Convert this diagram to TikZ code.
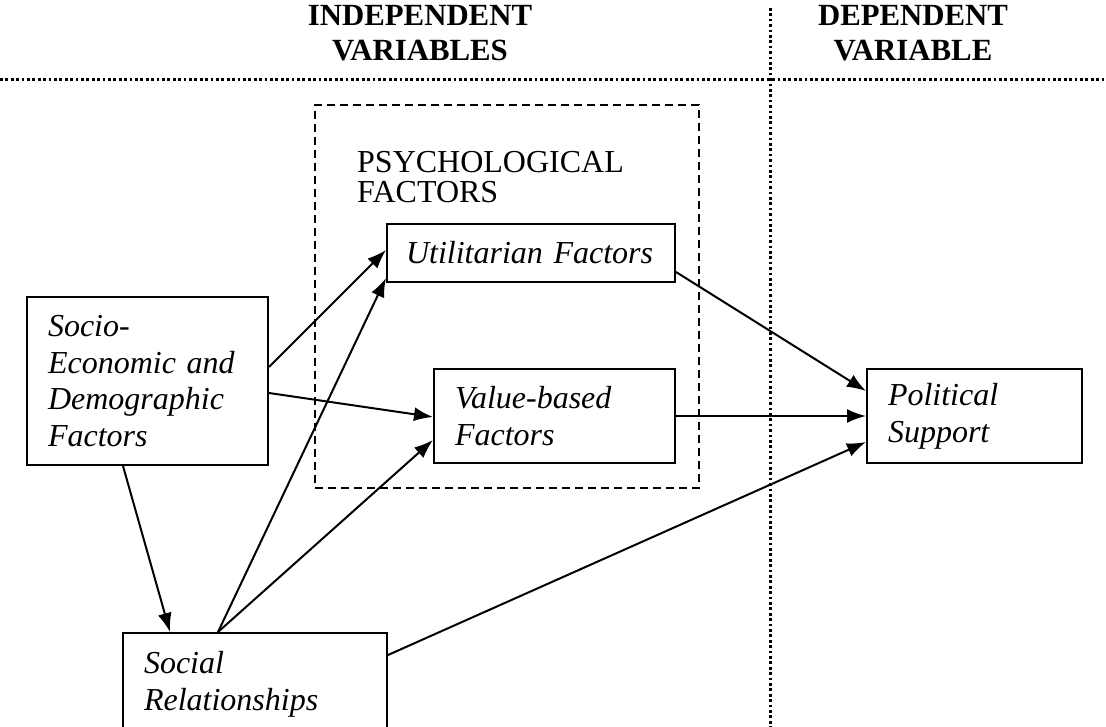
\documentclass[tikz,border=0pt]{standalone}
\usepackage{fontspec}
\setmainfont{Liberation Serif}
\usetikzlibrary{arrows.meta}
\newcommand\myNoHyph{\hyphenpenalty 10000\relax}
\begin{document}
\begin{tikzpicture}[x=1pt,y=-1pt,
  box/.style={draw, line width=2pt, rectangle, inner xsep=21pt, inner ysep=0pt,
    align=left, font=\fontsize{32}{36.8}\selectfont\itshape, anchor=center},
  arr/.style={line width=2pt, -{Latex[length=19pt,width=14pt]}},
  hdr/.style={font=\fontsize{30.8}{35}\selectfont\bfseries, inner sep=0pt, anchor=base},
  psy/.style={font=\fontsize{32}{30}\selectfont, inner sep=0pt, anchor=base west},
  dotline/.style={line width=3pt, dash pattern=on 2.7pt off 2.7pt},
  dashbox/.style={draw, line width=1.6pt, dash pattern=on 8pt off 5pt, rectangle, inner sep=0pt}]
\useasboundingbox (0,0) rectangle (1106,727);

% header lines
\coordinate (hl) at (0,80);
\coordinate (hr) at (1106,80);
\coordinate (vt) at (770,8);
\coordinate (vb) at (770,727);
\draw[dotline] (hl) -- (hr);
\draw[dotline] (vt) -- (vb);

\node[hdr] (ind1) at (420,26) {INDEPENDENT};
\node[hdr] (ind2) at (420,61) {VARIABLES};
\node[hdr] (dep1) at (913,26) {DEPENDENT};
\node[hdr] (dep2) at (913,61) {VARIABLE};

% psychological factors dashed box
\node[dashbox, minimum width=384pt, minimum height=383pt] (psych) at (507,296.5) {};
\node[psy] (psyt1) at (357,173) {PSYCHOLOGICAL};
\node[psy] (psyt2) at (357,203) {FACTORS};

% boxes
\node[box, text width=199pt, minimum height=168pt] (socio) at (147.5,381)
  {\myNoHyph Socio-\\Economic and\\Demographic\\Factors};
\node[box, inner xsep=19pt, text width=250pt, minimum width=288pt, minimum height=58pt] (util) at (531,253)
  {\myNoHyph Utilitarian Factors};
\node[box, text width=199pt, minimum height=94pt] (value) at (554.5,416)
  {\myNoHyph Value-based\\Factors};
\node[box, text width=173pt, minimum height=94pt] (pol) at (974.5,416)
  {\myNoHyph Political\\Support};
\node[box, text width=222pt, minimum height=102pt] (social) at (255,684)
  {\myNoHyph Social\\Relationships};

% connectors
\draw[arr] ([yshift=14pt]socio.east) -- ([yshift=3pt]util.west);
\draw[arr] ([yshift=-12pt]socio.east) -- ([yshift=-1pt]value.west);
\draw[arr] ([xshift=-24.5pt]socio.south) -- ([xshift=-85pt]social.north);
\draw[arr] ([xshift=-37pt]social.north) -- ([yshift=-25pt]util.west);
\draw[arr] ([xshift=-37pt]social.north) -- ([yshift=-24pt]value.west);
\draw[arr] ([yshift=29pt]social.east) -- ([yshift=-26pt]pol.west);
\draw[arr] ([yshift=-19pt]util.east) -- ([yshift=25pt]pol.west);
\draw[arr] (value.east) -- (pol.west);
\end{tikzpicture}
\end{document}
